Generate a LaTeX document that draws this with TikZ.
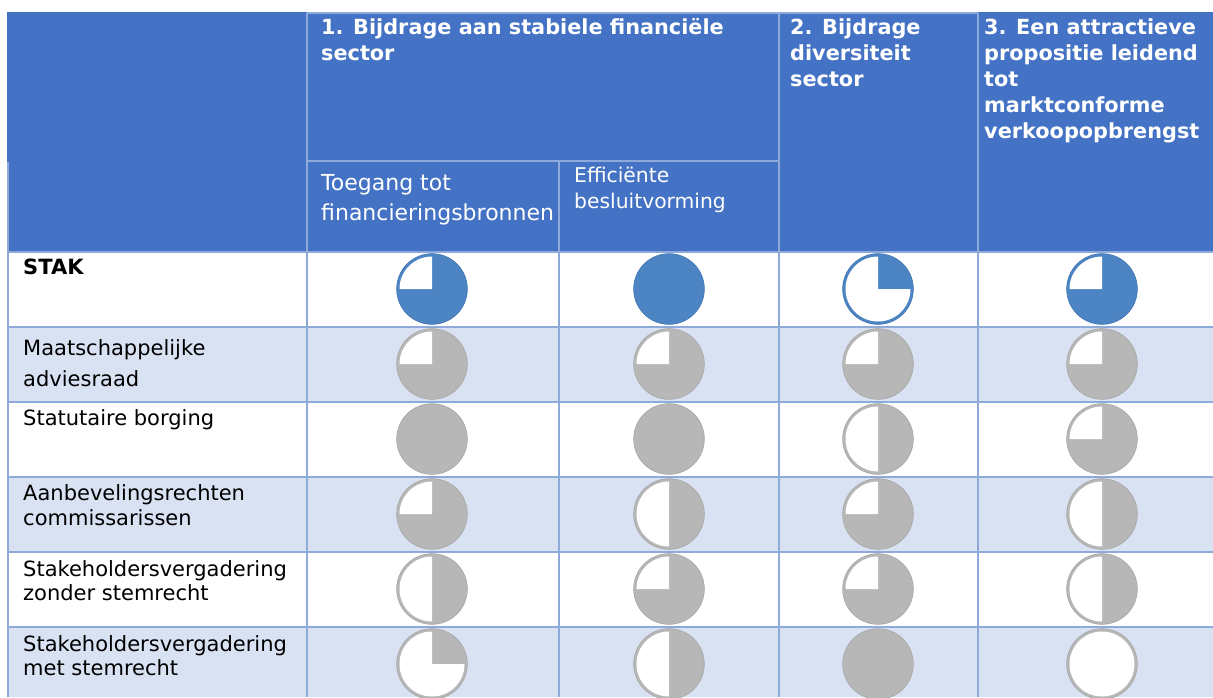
\documentclass[tikz,border=0pt]{standalone}
\usepackage{fontspec}
\setmainfont{DejaVu Sans}
\definecolor{hdrblue}{HTML}{4472C4}
\definecolor{gridc}{HTML}{8EAADB}
\definecolor{stripe}{HTML}{D9E2F3}
\definecolor{ballblue}{HTML}{4C84C4}
\definecolor{ballgray}{HTML}{B7B7B7}
\newcommand\hdrfont{\fontsize{20.8}{26}\selectfont\bfseries}
\newcommand\subfontA{\fontsize{22}{30}\selectfont}
\newcommand\subfontB{\fontsize{20.3}{25}\selectfont}
\newcommand\rowfont{\fontsize{21}{27}\selectfont}
\newcommand\hball[4]{%
  \fill[#3] (#1,#2) circle[radius=35.5];
  \draw[#3!92!black, line width=0.6] (#1,#2) circle[radius=35.3];
  \ifcase#4\relax
    \fill[white] (#1,#2) circle[radius=32.5];
  \or
    \fill[white] (#1,#2) -- ++(0,-32.5) arc[start angle=270,end angle=0,radius=32.5] -- cycle;
  \or
    \fill[white] (#1,#2) -- ++(0,-32.5) arc[start angle=270,end angle=90,radius=32.5] -- cycle;
  \or
    \fill[white] (#1,#2) -- ++(0,-32.5) arc[start angle=270,end angle=180,radius=32.5] -- cycle;
  \or
  \fi
}
\begin{document}
\begin{tikzpicture}[x=1pt,y=-1pt,
  hdr/.style={anchor=base west, inner sep=0pt, text=white, font=\hdrfont},
  subA/.style={anchor=base west, inner sep=0pt, text=white, font=\subfontA},
  subB/.style={anchor=base west, inner sep=0pt, text=white, font=\subfontB},
  rowlbl/.style={anchor=base west, inner sep=0pt, text=black, font=\rowfont},
  gridline/.style={draw=gridc, line width=2pt}]
\useasboundingbox (0,0) rectangle (1213,697);
\fill[white] (0,0) rectangle (1213,697);
% header background
\fill[hdrblue] (7,12) rectangle (1213,252);
% stripes
\fill[stripe] (8,327) rectangle (1213,402);
\fill[stripe] (8,477) rectangle (1213,552);
\fill[stripe] (8,627) rectangle (1213,697);
% grid
\draw[gridline] (307,13) -- (978,13);
\draw[gridline] (307,161) -- (779,161);
\draw[gridline] (8,162) -- (8,697);
\draw[gridline] (307,13) -- (307,697);
\draw[gridline] (559,161) -- (559,697);
\draw[gridline] (779,13) -- (779,697);
\draw[gridline] (978,13) -- (978,697);
\foreach \yy in {252,327,402,477,552,627} \draw[gridline] (8,\yy) -- (1213,\yy);
% header text
\node[hdr] (h1a) at (321,34.5) {1. Bijdrage aan stabiele financiële};
\node[hdr] (h1b) at (321,60.5) {sector};
\node[hdr] (h2a) at (790,34.5) {2. Bijdrage};
\node[hdr] (h2b) at (790,60.5) {diversiteit};
\node[hdr] (h2c) at (790,86.5) {sector};
\node[hdr] (h3a) at (984,34.5) {3. Een attractieve};
\node[hdr] (h3b) at (984,60.5) {propositie leidend};
\node[hdr] (h3c) at (984,86.5) {tot};
\node[hdr] (h3d) at (984,112.5) {marktconforme};
\node[hdr] (h3e) at (984,138.5) {verkoopopbrengst};
\node[subA] (s1a) at (321,190) {Toegang tot};
\node[subA] (s1b) at (321,220.5) {financieringsbronnen};
\node[subB] (s2a) at (574,182.7) {Efficiënte};
\node[subB] (s2b) at (574,208) {besluitvorming};
% row labels
\node[rowlbl, font=\rowfont\bfseries] (r1) at (23,274.3) {STAK};
\node[rowlbl] (r2a) at (23,355) {Maatschappelijke};
\node[rowlbl] (r2b) at (23,386.7) {adviesraad};
\node[rowlbl] (r3) at (23,425) {Statutaire borging};
\node[rowlbl] (r4a) at (23,500.7) {Aanbevelingsrechten};
\node[rowlbl] (r4b) at (23,525.5) {commissarissen};
\node[rowlbl] (r5a) at (23,576) {Stakeholdersvergadering};
\node[rowlbl] (r5b) at (23,600.7) {zonder stemrecht};
\node[rowlbl] (r6a) at (23,651.5) {Stakeholdersvergadering};
\node[rowlbl] (r6b) at (23,675.5) {met stemrecht};
% harvey balls
\hball{432}{289}{ballblue}{3}
\hball{669}{289}{ballblue}{4}
\hball{878}{289}{ballblue}{1}
\hball{1102}{289}{ballblue}{3}
\hball{432}{364}{ballgray}{3}
\hball{669}{364}{ballgray}{3}
\hball{878}{364}{ballgray}{3}
\hball{1102}{364}{ballgray}{3}
\hball{432}{439}{ballgray}{4}
\hball{669}{439}{ballgray}{4}
\hball{878}{439}{ballgray}{2}
\hball{1102}{439}{ballgray}{3}
\hball{432}{514}{ballgray}{3}
\hball{669}{514}{ballgray}{2}
\hball{878}{514}{ballgray}{3}
\hball{1102}{514}{ballgray}{2}
\hball{432}{589}{ballgray}{2}
\hball{669}{589}{ballgray}{3}
\hball{878}{589}{ballgray}{3}
\hball{1102}{589}{ballgray}{2}
\hball{432}{664}{ballgray}{1}
\hball{669}{664}{ballgray}{2}
\hball{878}{664}{ballgray}{4}
\hball{1102}{664}{ballgray}{0}
\end{tikzpicture}
\end{document}
